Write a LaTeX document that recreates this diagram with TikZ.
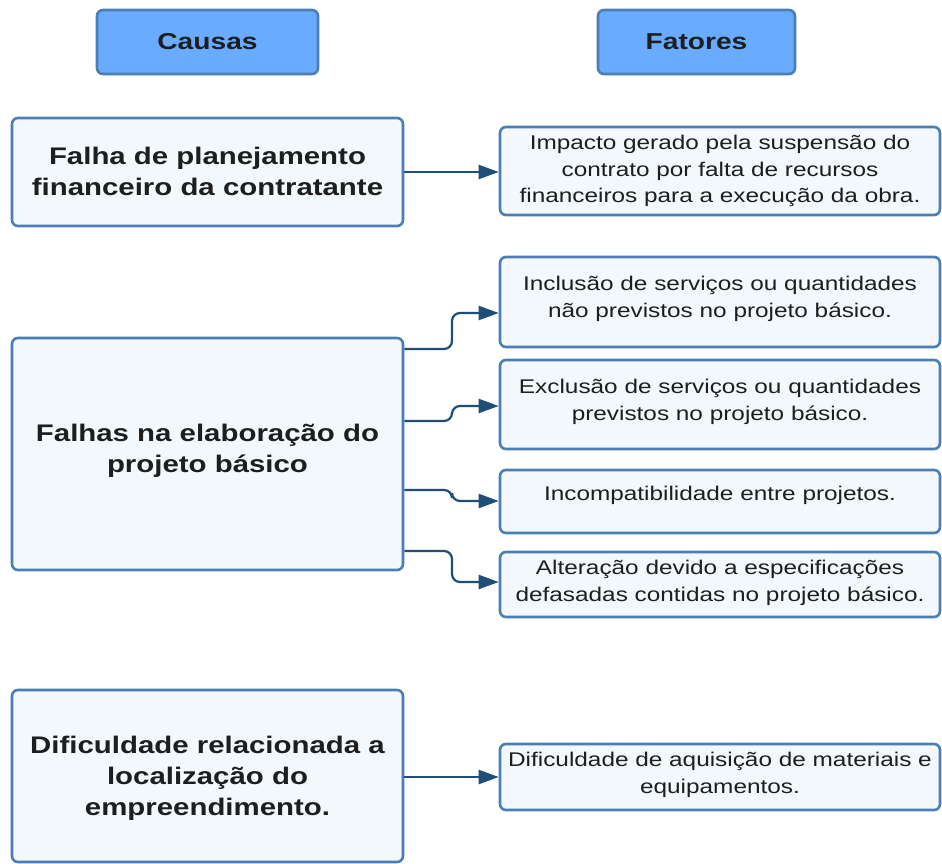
\documentclass[tikz,border=0pt]{standalone}
\usepackage{fontspec}
\usetikzlibrary{arrows.meta}
\newfontfamily\regfont[FakeStretch=1.23]{Liberation Sans}
\newfontfamily\boldfont[FakeStretch=1.225]{Liberation Sans}
\definecolor{hdrfill}{HTML}{69ACFF}
\definecolor{bordc}{HTML}{4A7EB5}
\definecolor{boxfill}{HTML}{F3F8FD}
\definecolor{arrc}{HTML}{1F4E79}
\definecolor{txtc}{HTML}{1E1E1E}
\begin{document}
\begin{tikzpicture}[x=1pt,y=-1pt,
  hdr/.style={draw=bordc, line width=2.6pt, fill=hdrfill, rounded corners=6pt, inner sep=0pt, text=txtc,
    font=\boldfont\bfseries\fontsize{23}{28}\selectfont},
  causebox/.style={draw=bordc, line width=2.6pt, fill=boxfill, rounded corners=6pt, inner sep=0pt,
    minimum width=391pt},
  factbox/.style={draw=bordc, line width=2.6pt, fill=boxfill, rounded corners=6pt, inner sep=0pt,
    minimum width=440pt},
  causetext/.style={align=center, inner sep=0pt, text=txtc, font=\boldfont\bfseries\fontsize{24}{31}\selectfont},
  facttext/.style={align=center, inner sep=0pt, text=txtc, font=\regfont\fontsize{19.8}{26.8}\selectfont},
  conn/.style={draw=arrc, line width=2.2pt, rounded corners=8pt, -{Triangle[length=20pt,width=14pt]}}
]
\fill[white] (0,0) rectangle (942,864);
\useasboundingbox (0,0) rectangle (942,864);

% headers
\node[hdr, minimum width=221pt, minimum height=64pt] (h1) at (207.5,42) {Causas};
\node[hdr, minimum width=197pt, minimum height=64pt] (h2) at (696.5,42) {Fatores};

% causes
\node[causebox, minimum height=108pt] (a) at (207.5,172) {};
\node[causetext] (at) at ([yshift=1pt]a.center) {Falha de planejamento\\financeiro da contratante};

\node[causebox, minimum height=232pt] (b) at (207.5,454) {};
\node[causetext] (bt) at ([yshift=3pt]b.center) {Falhas na elaboração do\\projeto básico};

\node[causebox, minimum height=172pt] (c) at (207.5,776) {};
\node[causetext] (ct) at ([yshift=-2pt]c.center) {Dificuldade relacionada a\\localização do\\empreendimento.};

% factors
\node[factbox, minimum height=88pt] (f1) at (720,171) {};
\node[facttext] (f1t) at (f1.center) {Impacto gerado pela suspensão do\\contrato por falta de recursos\\financeiros para a execução da obra.};

\node[factbox, minimum height=90pt] (f2) at (720,302) {};
\node[facttext] (f2t) at ([yshift=3pt]f2.center) {Inclusão de serviços ou quantidades\\não previstos no projeto básico.};

\node[factbox, minimum height=89pt] (f3) at (720,404.5) {};
\node[facttext] (f3t) at ([yshift=3pt]f3.center) {Exclusão de serviços ou quantidades\\previstos no projeto básico.};

\node[factbox, minimum height=63pt] (f4) at (720,501.5) {};
\node[facttext] (f4t) at ([yshift=6pt]f4.center) {Incompatibilidade entre projetos.};

\node[factbox, minimum height=65pt] (f5) at (720,584.5) {};
\node[facttext] (f5t) at ([yshift=2pt]f5.center) {Alteração devido a especificações\\defasadas contidas no projeto básico.};

\node[factbox, minimum height=66pt] (f6) at (720,777) {};
\node[facttext] (f6t) at ([yshift=2pt]f6.center) {Dificuldade de aquisição de materiais e\\equipamentos.};

% connectors
\draw[conn] (a.east) -- (a.east -| f1.west);
\draw[conn] (b.east |- 0,349) -- (452,349) -- (452,313) -- (f2.west |- 0,313);
\draw[conn] (b.east |- 0,421) -- (452,421) -- (452,406) -- (f3.west |- 0,406);
\draw[conn] (b.east |- 0,490) -- (452,490) -- (452,501) -- (f4.west |- 0,501);
\draw[conn] (b.east |- 0,551) -- (452,551) -- (452,582) -- (f5.west |- 0,582);
\draw[conn] (c.east |- 0,777) -- (f6.west |- 0,777);
\end{tikzpicture}
\end{document}
